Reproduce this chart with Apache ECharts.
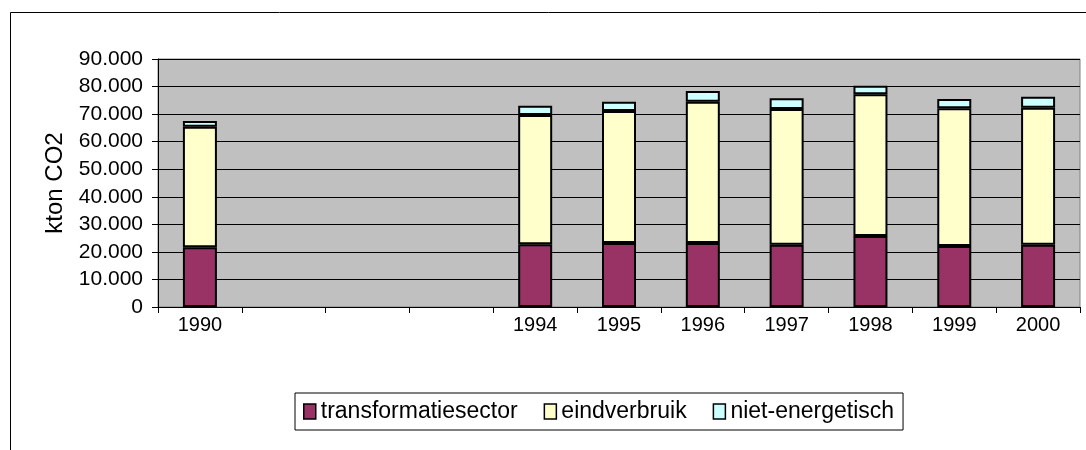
<!DOCTYPE html>
<html>
<head>
<meta charset="utf-8">
<script src="https://cdn.jsdelivr.net/npm/echarts@6/dist/echarts.min.js"></script>
<style>
  html, body { margin: 0; padding: 0; background: #fff; }
  #chart { width: 1086px; height: 450px; }
</style>
</head>
<body>
<div id="chart"></div>
<script>
// jaren (1991-1993 leeg op de as)
const years = ['1990', '', '', '', '1994', '1995', '1996', '1997', '1998', '1999', '2000'];
const transformatiesector = [21700, null, null, null, 22750, 23200, 23200, 22600, 25800, 22100, 22600];
const eindverbruik = [43700, null, null, null, 46900, 47900, 51300, 49250, 51400, 50000, 49700];
const nietEnergetisch = [2100, null, null, null, 3370, 3380, 3870, 3870, 3130, 3370, 3980];
const yTicks = [0, 10000, 20000, 30000, 40000, 50000, 60000, 70000, 80000, 90000];

const chart = echarts.init(document.getElementById('chart'));

const fmt = v => String(v).replace(/\B(?=(\d{3})+(?!\d))/g, '.');
const font = 'Liberation Sans, Arial, sans-serif';

function bar(name, data, color) {
  return {
    name: name,
    type: 'bar',
    stack: 'co2',
    data: data,
    barWidth: 34,
    itemStyle: { color: color, borderColor: '#000', borderWidth: 2 }
  };
}

chart.setOption({
  animation: false,
  textStyle: { fontFamily: font },
  graphic: [{
    type: 'rect',
    shape: { x: 10.5, y: 12.5, width: 1200, height: 600 },
    style: { fill: 'none', stroke: '#000', lineWidth: 1 },
    silent: true
  }],
  grid: {
    left: 158, top: 59, width: 922, height: 248,
    show: true, backgroundColor: '#C0C0C0', borderColor: '#808080', borderWidth: 1
  },
  legend: {
    left: 295, top: 393,
    icon: 'rect',
    itemWidth: 12, itemHeight: 15, itemGap: 26,
    padding: [7, 9, 7, 8],
    borderColor: '#000', borderWidth: 1,
    itemStyle: { borderColor: '#000', borderWidth: 1.5 },
    textStyle: { fontSize: 23, color: '#000', fontFamily: font },
    data: ['transformatiesector', 'eindverbruik', 'niet-energetisch']
  },
  xAxis: {
    type: 'category',
    data: years,
    axisLine: { lineStyle: { color: '#000', width: 1 } },
    axisTick: { show: true, interval: 0, length: 6, lineStyle: { color: '#000' } },
    axisLabel: { interval: 0, fontSize: 20, color: '#000', margin: 8 }
  },
  yAxis: {
    type: 'value',
    min: yTicks[0], max: yTicks[yTicks.length - 1], interval: yTicks[1] - yTicks[0],
    name: 'kton CO2', nameLocation: 'middle', nameGap: 88,
    nameTextStyle: { fontSize: 24, color: '#000' },
    axisLine: { show: true, lineStyle: { color: '#000', width: 1 } },
    axisTick: { show: true, length: 6, lineStyle: { color: '#000' } },
    axisLabel: { fontSize: 21, color: '#000', margin: 15, formatter: fmt },
    splitLine: { show: true, lineStyle: { color: '#000', width: 1 } }
  },
  series: [
    bar('transformatiesector', transformatiesector, '#993366'),
    bar('eindverbruik', eindverbruik, '#FFFFCC'),
    bar('niet-energetisch', nietEnergetisch, '#CCFFFF')
  ]
});
</script>
</body>
</html>
